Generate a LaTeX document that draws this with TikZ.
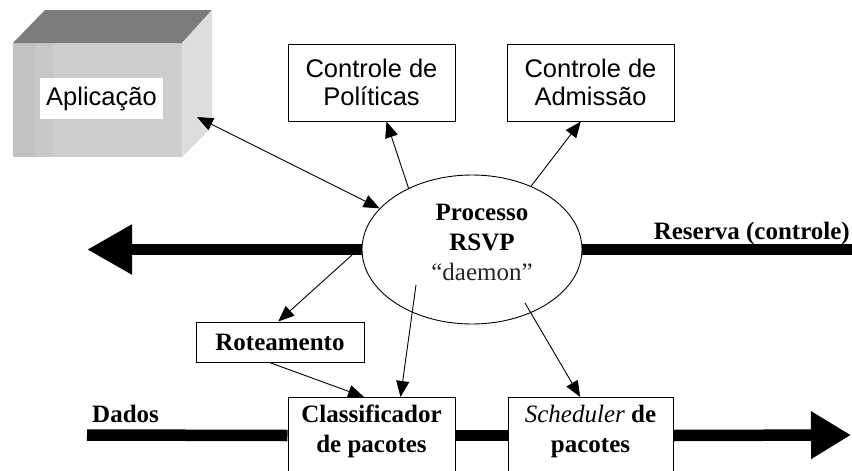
\documentclass[tikz,border=0pt]{standalone}
\usepackage{fontspec}
\setmainfont{Liberation Serif}
\newfontfamily\sansf{Liberation Sans}
\usetikzlibrary{arrows.meta,shapes.geometric,calc}
\definecolor{cubefront}{HTML}{CDCDCD}
\definecolor{cubestrip}{HTML}{C2C2C2}
\definecolor{cubetop}{HTML}{7C7C7C}
\definecolor{cuberight}{HTML}{DDDDDD}
\begin{document}
\begin{tikzpicture}[x=1pt,y=-1pt,
  box/.style={draw=black, line width=1pt, fill=white, inner sep=0pt},
  sanstext/.style={font=\sansf\fontsize{25.5}{28}\selectfont, align=center},
  boldtext/.style={font=\bfseries\fontsize{25}{30}\selectfont, align=center, inner sep=0pt},
  thinarrow/.style={line width=0.9pt, -{Triangle[length=16pt,width=13pt]}},
  dblarrow/.style={line width=0.9pt, {Triangle[length=16pt,width=13pt]}-{Triangle[length=16pt,width=13pt]}},
  bigline/.style={line width=11.5pt},
  bigarrowL/.style={line width=11.5pt, -{Triangle[length=45pt,width=47pt]}},
  bigarrowR/.style={line width=11.5pt, -{Triangle[length=40pt,width=45pt]}},
]
\clip (0,0) rectangle (852,471);
\fill[white] (0,0) rectangle (852,471);

% application cube
\fill[cubefront] (13,43) rectangle (182,157);
\fill[cubestrip] (13,43) rectangle (35,157);
\fill[cubestrip!50!cubefront] (35,43) rectangle (53,157);
\fill[cubetop] (13,43) -- (45,10) -- (212,10) -- (182,43) -- cycle;
\fill[cuberight] (182,43) -- (212,10) -- (212,127) -- (182,157) -- cycle;
\node[fill=white, minimum width=123pt, minimum height=41pt, inner sep=0pt, sanstext] (app) at (101.5,98.5) {Aplicação};
\coordinate (appEnd) at (197,117);

% thick lines
\node[draw, ellipse, line width=0.9pt, minimum width=220pt, minimum height=149pt, inner sep=0pt] (ell) at (472,249.5) {};
\coordinate (tipL) at (87,249.5);
\coordinate (resR) at (852,249.5);
\draw[bigarrowL] (ell.west) -- (tipL);
\draw[bigline] (ell.east) -- (resR);

% boxes
\node[box, minimum width=167pt, minimum height=77pt, sanstext] (pol) at (371.5,82.5) {Controle de\\Políticas};
\node[box, minimum width=167pt, minimum height=77pt, sanstext] (adm) at (590.5,82.5) {Controle de\\Admissão};
\node[box, minimum width=168pt, minimum height=40pt, boldtext] (rot) at (280,342) {Roteamento};
\node[box, minimum width=167pt, minimum height=76pt, anchor=north] (cls) at (371.5,397) {};
\node[box, minimum width=165pt, minimum height=76pt, anchor=north] (sch) at (590.5,397) {};
\node[boldtext] (clst) at (371.5,431) {Classificador\\de pacotes};
\node[boldtext] (scht) at (590.5,431) {{\mdseries\itshape Scheduler} de\\pacotes};

% data lines
\coordinate (dL) at (87,435);
\coordinate (dR) at (851,435);
\draw[bigline] (dL) -- (cls.west);
\draw[bigline] (cls.east) -- (sch.west);
\draw[bigarrowR] (sch.east) -- (dR);

% ellipse text and labels
\node[boldtext] (rsvp) at (482,242) {Processo\\RSVP\\{\mdseries\color{black!85}“daemon”}};
\node[boldtext, anchor=base east] (res) at (850,239) {Reserva (controle)};
\node[boldtext, anchor=base west] (dados) at (92,422) {Dados};

% thin arrows
\coordinate (e4) at (352,255);
\coordinate (e6) at (416,285);
\coordinate (e7) at (525,303);
\draw[dblarrow] (appEnd) -- (ell.156);
\draw[thinarrow] (ell.136) -- (pol.-69);
\draw[thinarrow] (ell.47) -- (adm.-104);
\draw[thinarrow] (e4) -- (rot.95);
\draw[thinarrow] (rot.-117) -- (cls.101);
\draw[thinarrow] (e6) -- (cls.53);
\draw[thinarrow] (e7) -- (sch.105);
\end{tikzpicture}
\end{document}
